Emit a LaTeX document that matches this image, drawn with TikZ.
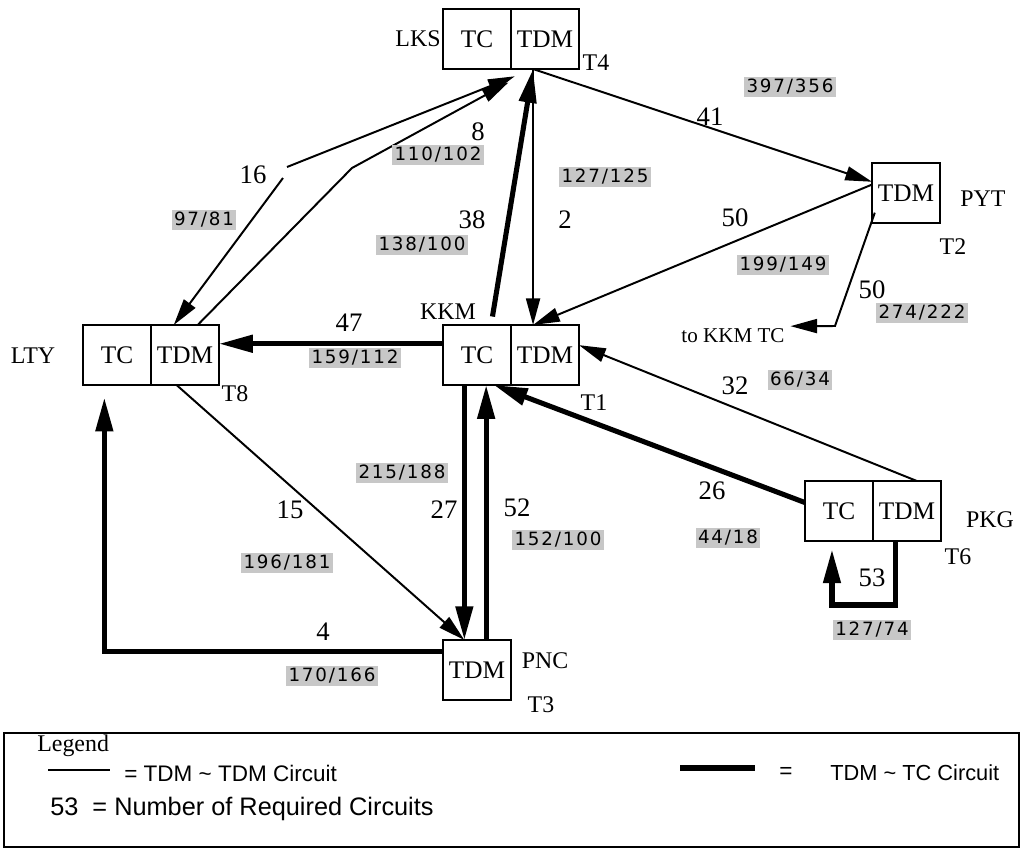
\documentclass[tikz,border=0pt]{standalone}
\usepackage{fontspec}
\setmainfont{Liberation Serif}
\newfontfamily\ratiofont[LetterSpace=10]{DejaVu Sans}
\newfontfamily\legendfont{Liberation Sans}
\usepackage{tikz}
\usetikzlibrary{positioning, arrows.meta}

\tikzset{
    unit/.style={draw, line width=1.2pt, minimum width=1.7cm, minimum height=1.5cm,
        inner sep=0pt, outer sep=0pt, font=\fontsize{18}{18}\selectfont},
    stn/.style={inner sep=0pt, font=\fontsize{17}{17}\selectfont},
    cnt/.style={inner sep=0pt, font=\fontsize{19}{19}\selectfont},
    ratio/.style={fill=black!22, inner sep=1.5pt, font=\ratiofont\fontsize{13}{13}\selectfont},
    tdmlink/.style={line width=1.4pt, -{Triangle[length=19pt, width=10pt]}},
    tclink/.style={line width=3.6pt, -{Triangle[length=24pt, width=12pt]}},
}

\begin{document}
\begin{tikzpicture}[x=0.025cm, y=-0.025cm]
    \useasboundingbox (0,0) rectangle (1021,850);

    % exchanges
    \node[unit] (lksTC) at (477,39) {TC};
    \node[unit, right=0pt of lksTC] (lksTDM) {TDM};
    \node[unit] (pytTDM) at (906,193) {TDM};
    \node[unit] (kkmTC) at (477,355) {TC};
    \node[unit, right=0pt of kkmTC] (kkmTDM) {TDM};
    \node[unit] (ltyTC) at (117,355) {TC};
    \node[unit, right=0pt of ltyTC] (ltyTDM) {TDM};
    \node[unit] (pncTDM) at (477,670) {TDM};
    \node[unit] (pkgTC) at (839,511) {TC};
    \node[unit, right=0pt of pkgTC] (pkgTDM) {TDM};

    \node[stn] (lks) at (418,39) {LKS};
    \node[stn] (t4) at (596,63) {T4};
    \node[stn] (pyt) at (983,199) {PYT};
    \node[stn] (t2) at (953,247) {T2};
    \node[stn] (kkm) at (448,312) {KKM};
    \node[stn] (t1) at (594,403) {T1};
    \node[stn] (lty) at (33,356) {LTY};
    \node[stn] (t8) at (235,394) {T8};
    \node[stn] (pnc) at (545,661) {PNC};
    \node[stn] (t3) at (541,705) {T3};
    \node[stn] (pkg) at (990,520) {PKG};
    \node[stn] (t6) at (958,557) {T6};
    \node[stn, font=\fontsize{15}{15}\selectfont] (tokkm) at (733,336) {to KKM TC};

    \coordinate (gapA) at (287,167);
    \coordinate (gapB) at (283,178);
    \coordinate (bend) at (352,168);
    \coordinate (bendP) at (835,326);

    % circuits
    \draw[tdmlink] ([xshift=-8.5pt]lksTDM.south) -- ([yshift=8pt]pytTDM.west);
    \draw[tdmlink] ([yshift=6pt]pytTDM.west) -- ([xshift=-8.5pt]kkmTDM.north);
    \draw[tdmlink] ([xshift=-8.5pt]lksTDM.south) -- ([xshift=-8.5pt]kkmTDM.north);
    \draw[tdmlink] ([xshift=2pt,yshift=-14pt]pytTDM.west) -- (bendP) -- ([xshift=4pt,yshift=7pt]tokkm.east);
    \draw[tdmlink, shorten >=14pt] (gapA) -- ([xshift=-8.5pt]lksTDM.south);
    \draw[tdmlink] (gapB) -- ([xshift=-8pt]ltyTDM.north);
    \draw[tdmlink, shorten >=20pt] ([xshift=9pt]ltyTDM.north) -- (bend) -- ([xshift=-8.5pt]lksTDM.south);
    \draw[tdmlink] ([xshift=-6pt]ltyTDM.south) -- ([xshift=-9pt]pncTDM.north);
    \draw[tdmlink] ([xshift=7pt]pkgTDM.north) -- ([yshift=7pt]kkmTDM.east);
    \draw[tclink] ([xshift=11pt,yshift=6pt]kkmTC.north) -- ([xshift=-8.5pt]lksTDM.south);
    \draw[tclink] ([yshift=8pt]kkmTC.west) -- ([yshift=8pt]ltyTDM.east);
    \draw[tclink] ([xshift=-9pt]kkmTC.south) -- ([xshift=-9pt]pncTDM.north);
    \draw[tclink] ([xshift=6.5pt]pncTDM.north) -- ([xshift=6.5pt]kkmTC.south);
    \draw[tclink] ([yshift=13pt]pncTDM.west) -| ([xshift=-9pt,yshift=-9pt]ltyTC.south);
    \draw[tclink] ([yshift=6pt]pkgTC.west) -- ([xshift=12pt]kkmTC.south);
    \draw[tclink] ([xshift=-8pt]pkgTDM.south) -- ++(0,64) -| ([xshift=-5pt,yshift=-6pt]pkgTC.south);

    \node[cnt] (n41) at (710,117) {41};
    \node[cnt] (n8) at (478,132) {8};
    \node[cnt] (n16) at (253,175) {16};
    \node[cnt] (n38) at (472,220) {38};
    \node[cnt] (n2) at (565,220) {2};
    \node[cnt] (n50a) at (735,218) {50};
    \node[cnt] (n50b) at (872,290) {50};
    \node[cnt] (n47) at (349,323) {47};
    \node[cnt] (n32) at (735,386) {32};
    \node[cnt] (n26) at (712,491) {26};
    \node[cnt] (n15) at (290,510) {15};
    \node[cnt] (n27) at (444,510) {27};
    \node[cnt] (n52) at (517,508) {52};
    \node[cnt] (n4) at (323,632) {4};
    \node[cnt] (n53) at (872,578) {53};

    \node[ratio] (r397) at (790,87) {397/356};
    \node[ratio] (r110) at (438,155) {110/102};
    \node[ratio] (r127a) at (605,177) {127/125};
    \node[ratio] (r97) at (204,220) {97/81};
    \node[ratio] (r138) at (422,245) {138/100};
    \node[ratio] (r199) at (783,265) {199/149};
    \node[ratio] (r274) at (922,313) {274/222};
    \node[ratio] (r159) at (355,358) {159/112};
    \node[ratio] (r66) at (800,380) {66/34};
    \node[ratio] (r215) at (402,473) {215/188};
    \node[ratio] (r152) at (558,540) {152/100};
    \node[ratio] (r44) at (728,538) {44/18};
    \node[ratio] (r196) at (287,563) {196/181};
    \node[ratio] (r170) at (332,676) {170/166};
    \node[ratio] (r127b) at (872,630) {127/74};

    % legend
    \draw[line width=1pt] (4,733) rectangle (1019,847);
    \node[stn, anchor=west] (lgd) at (37,746) {Legend};
    \draw[line width=1.4pt] (48,770) -- (110,770);
    \node[anchor=west, inner sep=0pt, font=\legendfont\fontsize{16}{16}\selectfont] (lgthin) at (124,773) {= TDM \textasciitilde\ TDM Circuit};
    \draw[line width=4pt] (680,768) -- (755,768);
    \node[inner sep=0pt, font=\legendfont\fontsize{16}{16}\selectfont] (lgeq) at (786,773) {=};
    \node[anchor=west, inner sep=0pt, font=\legendfont\fontsize{15.5}{16}\selectfont] (lgthick) at (830,773) {TDM \textasciitilde\ TC Circuit};
    \node[anchor=west, inner sep=0pt, font=\legendfont\fontsize{18}{18}\selectfont] (lgnum) at (50,809) {53\ \ = Number of Required Circuits};
\end{tikzpicture}
\end{document}
